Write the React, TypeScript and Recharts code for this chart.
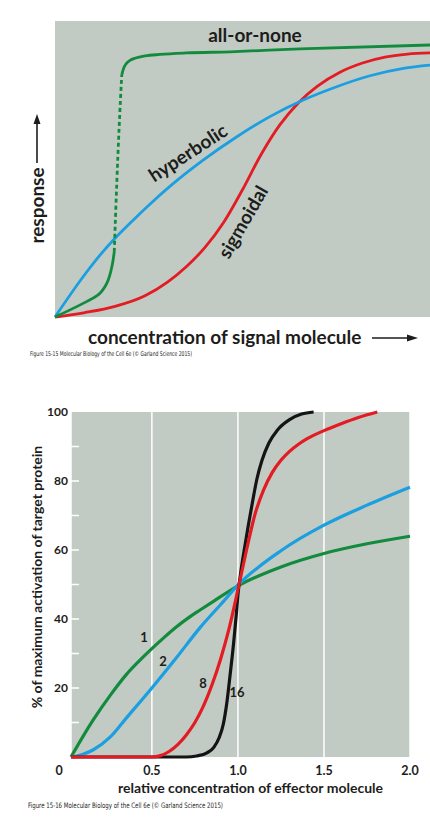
import { CartesianGrid, Line, LineChart, XAxis, YAxis } from "recharts"

const PLOT_BG = "#c1cbc4"
const INK = "#1d1d1b"
const GREEN = "#138b3e"
const BLUE = "#1b9fe0"
const RED = "#e31b23"
const BLACK = "#141414"
const FONT = "Lato, 'Open Sans', sans-serif"
const SMALL_FONT =
  "'Liberation Sans Narrow', 'DejaVu Sans Condensed', 'Liberation Sans', sans-serif"

// Figure 15-15: concentration (c) vs response (r), arbitrary 0-100 units
const allOrNoneLow = [
  { c: 0, r: 0 },
  { c: 7.5, r: 4.6 },
  { c: 10, r: 6.3 },
  { c: 12, r: 8 },
  { c: 13.3, r: 10.2 },
  { c: 14.2, r: 12.5 },
  { c: 14.9, r: 15.5 },
  { c: 15.4, r: 18.5 },
  { c: 15.8, r: 22 },
]
const allOrNoneJump = [
  { c: 15.8, r: 22 },
  { c: 16.5, r: 46 },
  { c: 17.1, r: 64 },
  { c: 17.8, r: 81.8 },
]
const allOrNoneHigh = [
  { c: 17.8, r: 81.8 },
  { c: 18.3, r: 84 },
  { c: 19, r: 85.6 },
  { c: 20, r: 86.7 },
  { c: 21.5, r: 87.5 },
  { c: 24, r: 88.2 },
  { c: 28, r: 88.7 },
  { c: 35, r: 89.2 },
  { c: 46.7, r: 89.6 },
  { c: 65.3, r: 90.6 },
  { c: 100, r: 91.9 },
]
const hyperbolic = [
  { c: 0, r: 0 },
  { c: 7.5, r: 13.6 },
  { c: 12, r: 20.9 },
  { c: 16, r: 26.6 },
  { c: 20.9, r: 32.8 },
  { c: 25.3, r: 38.1 },
  { c: 30.7, r: 44.2 },
  { c: 39.5, r: 53 },
  { c: 48.5, r: 60.9 },
  { c: 57.3, r: 67.7 },
  { c: 66.2, r: 73.3 },
  { c: 75.1, r: 77.8 },
  { c: 84, r: 81.5 },
  { c: 92.9, r: 84 },
  { c: 100, r: 85.1 },
]
const sigmoidal = [
  { c: 0, r: 0 },
  { c: 8, r: 1.5 },
  { c: 16, r: 3.6 },
  { c: 24, r: 7.2 },
  { c: 30, r: 11.8 },
  { c: 35, r: 17 },
  { c: 40, r: 23.5 },
  { c: 45, r: 32 },
  { c: 50, r: 43 },
  { c: 55, r: 55 },
  { c: 60, r: 65 },
  { c: 65, r: 72.5 },
  { c: 70, r: 78 },
  { c: 76, r: 82.7 },
  { c: 82, r: 85.8 },
  { c: 88, r: 87.8 },
  { c: 94, r: 88.8 },
  { c: 100, r: 89.2 },
]

// Figure 15-16: relative effector concentration (x) vs % activation (a)
const xTicks = [0.03, 0.5, 1, 1.5, 2]
const yTicks = [10, 20, 30, 40, 50, 60, 70, 80, 90, 100]

const hill1 = [
  { x: 0.03, a: 0 },
  { x: 0.1, a: 6 },
  { x: 0.16, a: 10.8 },
  { x: 0.26, a: 18 },
  { x: 0.35, a: 23.8 },
  { x: 0.45, a: 29 },
  { x: 0.5, a: 31.4 },
  { x: 0.57, a: 34.6 },
  { x: 0.64, a: 37.6 },
  { x: 0.72, a: 40.6 },
  { x: 0.78, a: 42.6 },
  { x: 0.86, a: 45.2 },
  { x: 1, a: 49.6 },
  { x: 1.25, a: 55.1 },
  { x: 1.5, a: 59 },
  { x: 1.75, a: 61.8 },
  { x: 2, a: 64 },
]
const hill2 = [
  { x: 0.04, a: 0 },
  { x: 0.1, a: 0.8 },
  { x: 0.16, a: 2.1 },
  { x: 0.26, a: 5.9 },
  { x: 0.35, a: 11.2 },
  { x: 0.5, a: 20 },
  { x: 0.64, a: 28.6 },
  { x: 0.78, a: 37.5 },
  { x: 0.9, a: 44.2 },
  { x: 1, a: 49.8 },
  { x: 1.25, a: 59.8 },
  { x: 1.5, a: 67.2 },
  { x: 1.75, a: 73 },
  { x: 2, a: 78.2 },
]
const hill8 = [
  { x: 0.03, a: 0 },
  { x: 0.5, a: 0 },
  { x: 0.55, a: 0.4 },
  { x: 0.6, a: 1.6 },
  { x: 0.65, a: 3.6 },
  { x: 0.7, a: 6.4 },
  { x: 0.75, a: 10 },
  { x: 0.8, a: 14.8 },
  { x: 0.85, a: 21 },
  { x: 0.9, a: 28.5 },
  { x: 0.95, a: 37.5 },
  { x: 1, a: 48.5 },
  { x: 1.05, a: 60 },
  { x: 1.1, a: 70.5 },
  { x: 1.15, a: 77.5 },
  { x: 1.2, a: 82.5 },
  { x: 1.25, a: 86 },
  { x: 1.3, a: 88.6 },
  { x: 1.35, a: 90.6 },
  { x: 1.4, a: 92.2 },
  { x: 1.5, a: 94.6 },
  { x: 1.6, a: 96.6 },
  { x: 1.7, a: 98.4 },
  { x: 1.81, a: 100 },
]
const hill16 = [
  { x: 0.03, a: 0 },
  { x: 0.7, a: 0 },
  { x: 0.76, a: 0.3 },
  { x: 0.82, a: 1.2 },
  { x: 0.86, a: 2.8 },
  { x: 0.89, a: 5.5 },
  { x: 0.915, a: 9.5 },
  { x: 0.935, a: 15.5 },
  { x: 0.955, a: 24 },
  { x: 0.975, a: 33 },
  { x: 0.99, a: 41 },
  { x: 1, a: 47 },
  { x: 1.015, a: 53 },
  { x: 1.035, a: 59.5 },
  { x: 1.06, a: 67 },
  { x: 1.085, a: 74 },
  { x: 1.11, a: 80.5 },
  { x: 1.14, a: 86 },
  { x: 1.18, a: 91 },
  { x: 1.23, a: 94.8 },
  { x: 1.3, a: 97.8 },
  { x: 1.37, a: 99.4 },
  { x: 1.44, a: 100 },
]

function ActivationTick(props: any) {
  const { x, y, payload } = props
  const v = payload.value as number
  return (
    <g>
      {v < 100 && (
        <line x1={x} x2={x + 8} y1={y} y2={y} stroke="#fff" strokeWidth={1.5} />
      )}
      {v % 20 === 0 && (
        <text
          x={x - 3}
          y={y}
          dy="0.35em"
          textAnchor="end"
          fontFamily={FONT}
          fontWeight={700}
          fontSize={12}
          fill={INK}
        >
          {v}
        </text>
      )}
    </g>
  )
}

function EffectorTick(props: any) {
  const { x, y, payload } = props
  const v = payload.value as number
  const first = v === xTicks[0]
  return (
    <text
      x={first ? x - 12 : x}
      y={y + 14}
      dy="0.35em"
      textAnchor="middle"
      fontFamily={FONT}
      fontWeight={700}
      fontSize={12.5}
      fill={INK}
    >
      {first ? "0" : v.toFixed(1)}
    </text>
  )
}

const bold = { fontFamily: FONT, fontWeight: 700, fill: INK } as const

export default function App() {
  return (
    <div
      style={{
        position: "absolute",
        left: 0,
        top: 0,
        width: 430,
        height: 819,
        background: "#fff",
        overflow: "hidden",
      }}
    >
      <div style={{ position: "absolute", left: 0, top: 0 }}>
        <LineChart width={430} height={330} margin={{ top: 21, right: 0, bottom: 13, left: 55 }}>
          <CartesianGrid fill={PLOT_BG} stroke="none" horizontal={false} vertical={false} />
          <XAxis type="number" dataKey="c" domain={[0, 100]} hide />
          <YAxis type="number" dataKey="r" domain={[0, 100]} hide />
          <Line data={sigmoidal} dataKey="r" type="monotone" stroke={RED} strokeWidth={2.8} dot={false} activeDot={false} isAnimationActive={false} />
          <Line data={hyperbolic} dataKey="r" type="monotone" stroke={BLUE} strokeWidth={2.8} dot={false} activeDot={false} isAnimationActive={false} />
          <Line data={allOrNoneLow} dataKey="r" type="monotone" stroke={GREEN} strokeWidth={2.8} dot={false} activeDot={false} isAnimationActive={false} />
          <Line data={allOrNoneJump} dataKey="r" type="monotone" stroke={GREEN} strokeWidth={2.8} strokeDasharray="4 3" dot={false} activeDot={false} isAnimationActive={false} />
          <Line data={allOrNoneHigh} dataKey="r" type="monotone" stroke={GREEN} strokeWidth={2.8} dot={false} activeDot={false} isAnimationActive={false} />
        </LineChart>
      </div>

      <div style={{ position: "absolute", left: 0, top: 380 }}>
        <LineChart width={430} height={420} margin={{ top: 32, right: 20, bottom: 13, left: 0 }}>
          <CartesianGrid fill={PLOT_BG} stroke="#fff" strokeWidth={1.5} horizontal={false} />
          <XAxis
            type="number"
            dataKey="x"
            domain={[0.03, 2]}
            ticks={xTicks}
            interval={0}
            height={30}
            axisLine={false}
            tickLine={false}
            tickSize={0}
            tickMargin={0}
            tick={<EffectorTick />}
          />
          <YAxis
            type="number"
            dataKey="a"
            domain={[0, 100]}
            ticks={yTicks}
            interval={0}
            width={71}
            axisLine={false}
            tickLine={false}
            tickSize={0}
            tickMargin={0}
            tick={<ActivationTick />}
          />
          <Line data={hill1} dataKey="a" type="monotone" stroke={GREEN} strokeWidth={3.2} dot={false} activeDot={false} isAnimationActive={false} />
          <Line data={hill2} dataKey="a" type="monotone" stroke={BLUE} strokeWidth={3.2} dot={false} activeDot={false} isAnimationActive={false} />
          <Line data={hill16} dataKey="a" type="monotone" stroke={BLACK} strokeWidth={3.2} dot={false} activeDot={false} isAnimationActive={false} />
          <Line data={hill8} dataKey="a" type="monotone" stroke={RED} strokeWidth={3.2} dot={false} activeDot={false} isAnimationActive={false} />
        </LineChart>
      </div>

      <svg
        width={430}
        height={819}
        style={{ position: "absolute", left: 0, top: 0, pointerEvents: "none" }}
      >
        {/* Figure 15-15 annotations */}
        <text x={255} y={35} dy="0.35em" textAnchor="middle" fontSize={19} {...bold}>
          all-or-none
        </text>
        <text transform="translate(188,153) rotate(-33)" dy="0.35em" textAnchor="middle" fontSize={19} {...bold}>
          hyperbolic
        </text>
        <text transform="translate(243,222) rotate(-60)" dy="0.35em" textAnchor="middle" fontSize={19} {...bold}>
          sigmoidal
        </text>
        <text transform="translate(37,205.5) rotate(-90)" dy="0.35em" textAnchor="middle" fontSize={19} {...bold}>
          response
        </text>
        <line x1={37} x2={37} y1={163} y2={122} stroke={INK} strokeWidth={1.6} />
        <polygon points="37,114 33.5,124 40.5,124" fill={INK} />
        <text x={88} y={337} dy="0.35em" fontSize={19} {...bold}>
          concentration of signal molecule
        </text>
        <line x1={372} x2={409} y1={338} y2={338} stroke={INK} strokeWidth={1.6} />
        <polygon points="418,338 407,334.5 407,341.5" fill={INK} />
        <text
          x={30}
          y={356}
          fontFamily={SMALL_FONT}
          fontSize={6.5}
          fill={INK}
          textLength={162}
          lengthAdjust="spacingAndGlyphs"
        >
          Figure 15-15  Molecular Biology of the Cell 6e (© Garland Science 2015)
        </text>

        {/* Figure 15-16 annotations */}
        <text x={144} y={637} dy="0.35em" textAnchor="middle" fontSize={13} {...bold}>1</text>
        <text x={163} y={661} dy="0.35em" textAnchor="middle" fontSize={13} {...bold}>2</text>
        <text x={203} y={683} dy="0.35em" textAnchor="middle" fontSize={13} {...bold}>8</text>
        <text x={237} y={692} dy="0.35em" textAnchor="middle" fontSize={13} {...bold}>16</text>
        <text transform="translate(37,577) rotate(-90)" dy="0.35em" textAnchor="middle" fontSize={14} {...bold}>
          % of maximum activation of target protein
        </text>
        <text x={250.5} y={788} dy="0.35em" textAnchor="middle" fontSize={14} {...bold}>
          relative concentration of effector molecule
        </text>
        <text
          x={28}
          y={808}
          fontFamily={SMALL_FONT}
          fontSize={7.5}
          fill={INK}
          textLength={195}
          lengthAdjust="spacingAndGlyphs"
        >
          Figure 15-16  Molecular Biology of the Cell 6e (© Garland Science 2015)
        </text>
      </svg>
    </div>
  )
}
